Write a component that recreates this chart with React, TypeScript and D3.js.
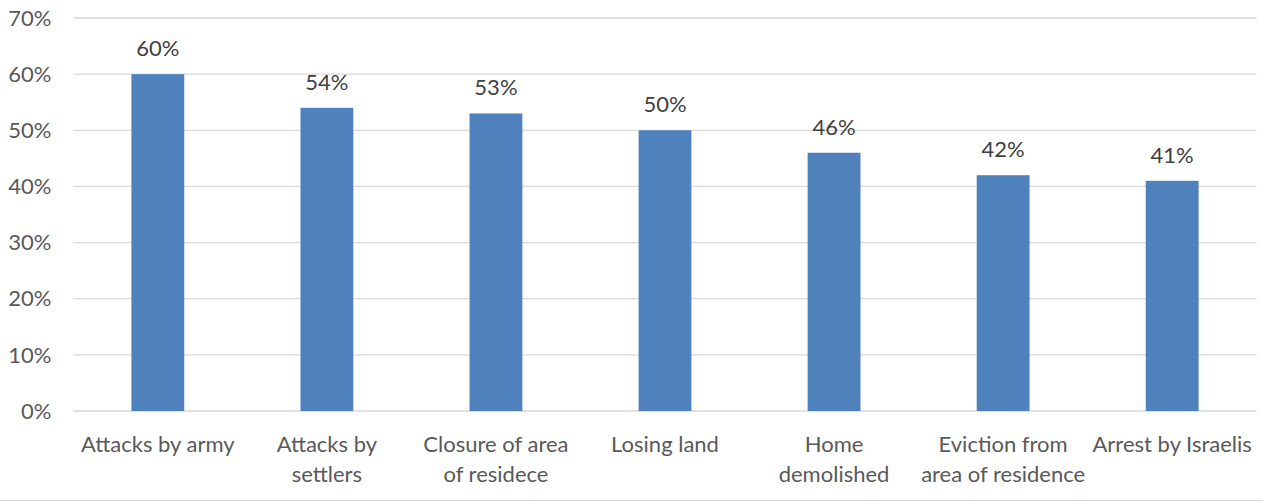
import React from "react";
import * as d3 from "d3";

const categories: string[][] = [
  ["Attacks by army"],
  ["Attacks by", "settlers"],
  ["Closure of area", "of residece"],
  ["Losing land"],
  ["Home", "demolished"],
  ["Eviction from", "area of residence"],
  ["Arrest by Israelis"],
];
const values: number[] = [0.6, 0.54, 0.53, 0.5, 0.46, 0.42, 0.41];
const yTicks: number[] = [0, 0.1, 0.2, 0.3, 0.4, 0.5, 0.6, 0.7];

const W = 1263;
const H = 502;
const FONT = "Lato, 'Open Sans', sans-serif";

export default function App() {
  const keys = categories.map((c) => c.join(" "));
  const x = d3.scaleBand<string>().domain(keys).range([73.3, 1256.7]).padding(0);
  const y = d3.scaleLinear().domain([0, 0.7]).range([411, 18]);
  const barW = x.step() / 3.2;
  const fmt = d3.format(".0%");

  return (
    <svg
      width={W}
      height={H}
      style={{ position: "absolute", left: 0, top: 0, background: "#fff" }}
      fontFamily={FONT}
    >
      <rect x={0} y={0} width={W} height={H} fill="#fff" />
      {yTicks.map((t) => (
        <g key={t}>
          <line x1={73.3} x2={1256.7} y1={y(t)} y2={y(t)} stroke="#d9d9d9" strokeWidth={1.3} />
          <text x={51.5} y={y(t)} dy="0.35em" textAnchor="end" fontSize={22} fill="#595959">
            {fmt(t)}
          </text>
        </g>
      ))}
      {values.map((v, i) => {
        const cx = (x(keys[i]) as number) + x.step() / 2;
        return (
          <g key={keys[i]}>
            <rect x={cx - barW / 2} y={y(v)} width={barW} height={y(0) - y(v)} fill="#4f81bd" />
            <text x={cx} y={y(v) - 18} textAnchor="middle" fontSize={22} fill="#404040">
              {fmt(v)}
            </text>
            {categories[i].map((line, j) => (
              <text
                key={j}
                x={cx}
                y={451.7 + j * 30}
                textAnchor="middle"
                fontSize={22}
                fill="#595959"
              >
                {line}
              </text>
            ))}
          </g>
        );
      })}
      <line x1={0} x2={W} y1={500.5} y2={500.5} stroke="#d9d9d9" strokeWidth={1} />
    </svg>
  );
}
